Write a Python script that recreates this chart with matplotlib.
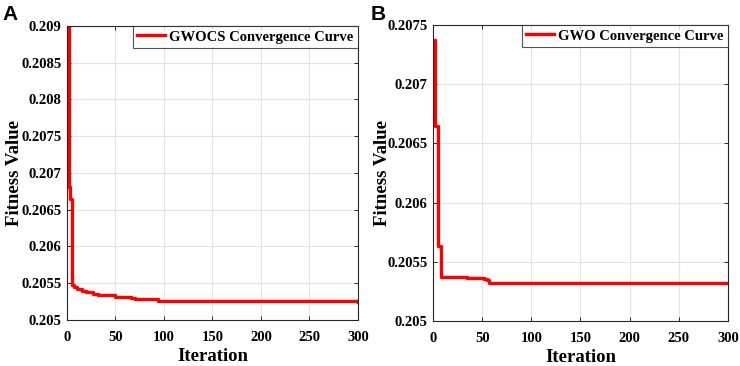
import matplotlib
matplotlib.use('Agg')
import matplotlib.pyplot as plt
from matplotlib.ticker import FuncFormatter

# convergence curves (iteration where the value changes, value)
gwocs_iter = [1, 2, 3, 5, 7, 10, 15, 20, 27, 32, 50, 66, 70, 94, 140, 300]
gwocs_fit = [0.2090, 0.20681, 0.20664, 0.20548, 0.20545, 0.20542, 0.20540, 0.20538,
             0.20536, 0.20534, 0.20531, 0.20530, 0.20528, 0.20526, 0.205255, 0.20525]

gwo_iter = [1, 2, 5, 8, 35, 52, 55, 57, 300]
gwo_fit = [0.20737, 0.20665, 0.20563, 0.205374, 0.20536, 0.205355, 0.20535, 0.205323, 0.205323]

gwocs_yticks = [0.205, 0.2055, 0.206, 0.2065, 0.207, 0.2075, 0.208, 0.2085, 0.209]
gwo_yticks = [0.205, 0.2055, 0.206, 0.2065, 0.207, 0.2075]
xticks = [0, 50, 100, 150, 200, 250, 300]

serif = 'Liberation Serif'

fig = plt.figure(figsize=(7.4, 3.66), dpi=100)
axA = fig.add_axes([0.0905, 0.1257, 0.3932, 0.8033])
axB = fig.add_axes([0.5851, 0.1230, 0.3986, 0.8087])

def style(ax, yticks, ylim, ylab_x):
    ax.set_xlim(0, 300)
    ax.set_ylim(*ylim)
    ax.set_xticks(xticks)
    ax.set_yticks(yticks)
    ax.yaxis.set_major_formatter(FuncFormatter(lambda v, p: '{:g}'.format(round(v, 5))))
    ax.grid(True, color='#e3e3e3', lw=0.8)
    ax.set_axisbelow(True)
    ax.tick_params(direction='in', length=3, width=0.7, top=True, right=True,
                   colors='#262626', labelcolor='black')
    ax.tick_params(axis='x', pad=8)
    ax.tick_params(axis='y', pad=4)
    for t in ax.get_xticklabels() + ax.get_yticklabels():
        t.set_fontfamily(serif)
        t.set_fontweight('bold')
        t.set_fontsize(10.5)
    for s in ax.spines.values():
        s.set_color('#262626')
        s.set_linewidth(0.8)
    ax.set_xlabel('Iteration', fontfamily=serif, fontweight='bold', fontsize=13.5)
    ax.set_ylabel('Fitness Value', fontfamily=serif, fontweight='bold', fontsize=13.5,
                  va='center')
    ax.xaxis.set_label_coords(0.5, -0.095)
    ax.yaxis.set_label_coords(ylab_x, 0.5)
    leg = ax.legend(loc='upper right', borderaxespad=0, fancybox=False, handlelength=1.9,
                    prop={'family': serif, 'weight': 'bold', 'size': 10.5},
                    borderpad=0.3, handletextpad=0.3)
    leg.get_frame().set_edgecolor('#262626')
    leg.get_frame().set_linewidth(0.8)

axA.plot(gwocs_iter, gwocs_fit, drawstyle='steps-post', color='#ff0000', lw=2.4,
         label='GWOCS Convergence Curve')
axB.plot(gwo_iter, gwo_fit, drawstyle='steps-post', color='#ff0000', lw=2.4,
         label='GWO Convergence Curve')

style(axA, gwocs_yticks, (0.205, 0.209), -0.182)
style(axB, gwo_yticks, (0.205, 0.2075), -0.17)

fig.text(0.004, 0.985, 'A', fontfamily='Liberation Sans', fontweight='bold', fontsize=15, va='top', ha='left')
fig.text(0.501, 0.985, 'B', fontfamily='Liberation Sans', fontweight='bold', fontsize=15, va='top', ha='left')

plt.savefig('out.png', dpi=100)
